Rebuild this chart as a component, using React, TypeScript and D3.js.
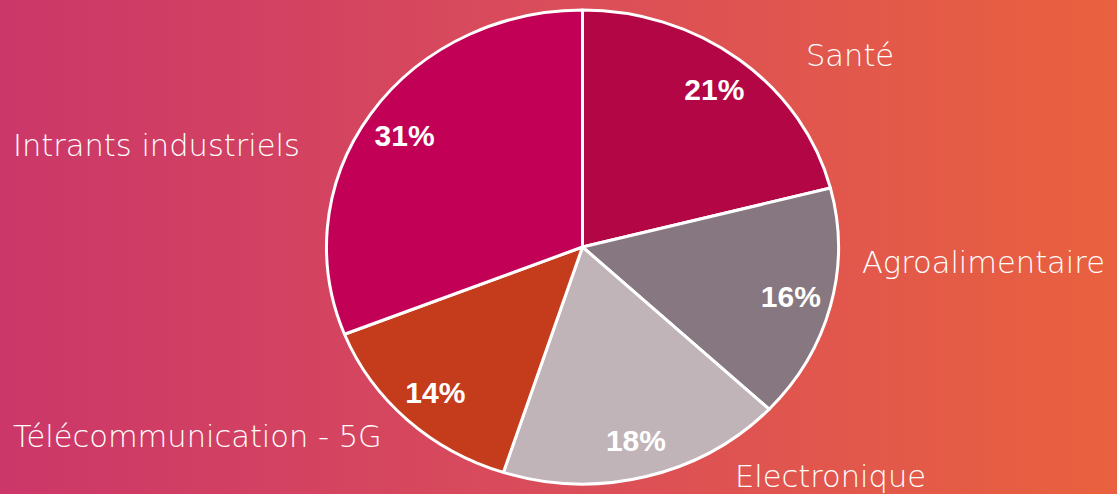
import React from "react";
import * as d3 from "d3";

const categories = ["Santé", "Agroalimentaire", "Electronique", "Télécommunication - 5G", "Intrants industriels"];
const values = [21, 16, 18, 14, 31];
const colors = ["#b30645", "#877780", "#c0b4b8", "#c53c1c", "#c20056"];

const W = 1117;
const H = 494;
const cx = 582.5;
const cy = 247;
const rx = 256;
const ry = 237;
const R = 100;

// label anchor positions (text-anchor start, baseline)
const labelPos: [number, number][] = [
  [806, 66],
  [862, 273],
  [735, 487],
  [13, 447],
  [13, 156],
];

export default function App() {
  const pie = d3.pie<number>().sort(null).value((d) => d)(values);
  const arc = d3.arc<d3.PieArcDatum<number>>().innerRadius(0).outerRadius(R);
  const labelArc = d3.arc<d3.PieArcDatum<number>>().innerRadius(R * 0.84).outerRadius(R * 0.84);
  const sx = rx / R;
  const sy = ry / R;
  return (
    <svg width={W} height={H} style={{ position: "absolute", left: 0, top: 0, display: "block" }}>
      <defs>
        <linearGradient id="bg" x1="0" x2="1" y1="0" y2="0">
          <stop offset="0" stopColor="#cb3769" />
          <stop offset="0.5" stopColor="#da4d5a" />
          <stop offset="1" stopColor="#e9613e" />
        </linearGradient>
      </defs>
      <rect x={0} y={0} width={W} height={H} fill="url(#bg)" />
      <g transform={`translate(${cx},${cy}) scale(${sx},${sy})`}>
        {pie.map((p, i) => (
          <path
            key={i}
            d={arc(p) || ""}
            fill={colors[i]}
            stroke="#fff"
            strokeWidth={3}
            vectorEffect="non-scaling-stroke"
            strokeLinejoin="round"
          />
        ))}
      </g>
      {pie.map((p, i) => {
        const [lx, ly] = labelArc.centroid(p);
        return (
          <text
            key={"p" + i}
            x={cx + lx * sx}
            y={cy + ly * sy}
            dy="0.36em"
            textAnchor="middle"
            fill="#fff"
            fontFamily="'Liberation Sans', Arial, sans-serif"
            fontWeight="bold"
            fontSize={30}
          >
            {p.data}%
          </text>
        );
      })}
      {categories.map((c, i) => (
        <text
          key={"c" + i}
          x={labelPos[i][0]}
          y={labelPos[i][1]}
          fill="#fff"
          fontFamily="'DejaVu Sans', sans-serif"
          fontWeight={200}
          fontSize={30.5}
        >
          {c}
        </text>
      ))}
    </svg>
  );
}
